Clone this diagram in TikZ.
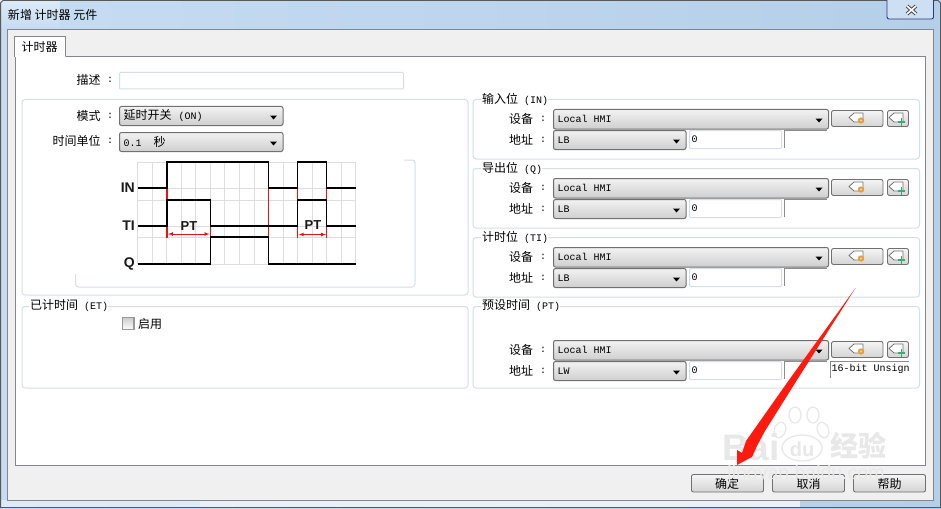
\documentclass[tikz,border=0pt]{standalone}
\usepackage{fontspec}
\setmainfont{Liberation Sans}
\newfontfamily\cjkfont{Noto Sans CJK SC}
\newfontfamily\monofont{Liberation Mono}
\usetikzlibrary{calc}
\definecolor{framea}{HTML}{C6DCF2}
\definecolor{frameb}{HTML}{B4CFE8}
\definecolor{panel}{HTML}{F0F0F0}
\definecolor{edgegray}{HTML}{84868C}
\definecolor{groupline}{HTML}{D5DFE5}
\definecolor{ctlline}{HTML}{707070}
\definecolor{gridline}{HTML}{DEDEDE}
\definecolor{redmark}{HTML}{F01010}
\definecolor{arrowred}{HTML}{FF1A10}
\definecolor{wmark}{HTML}{E8E8E8}
\definecolor{plusgreen}{HTML}{3FA878}
\definecolor{tagorange}{HTML}{E5A040}
\newcommand{\zh}{\cjkfont\fontsize{12}{14}\selectfont}
\newcommand{\mn}{\monofont\fontsize{10}{12}\selectfont}
\tikzset{
  x=1pt,y=-1pt,
  lbl/.style={inner sep=0pt,outer sep=0pt,text=black,font=\zh},
  mono/.style={inner sep=0pt,outer sep=0pt,text=black,font=\mn},
  groupbox/.style={draw=groupline,line width=1pt,rounded corners=3pt},
  ctlbox/.style={draw=ctlline,line width=1pt,rounded corners=2pt,top color=white!95!black,bottom color=black!19},
  btnbox/.style={draw=ctlline,line width=.9pt,rounded corners=2pt,top color=white!96!black,bottom color=black!17},
  fieldbox/.style={draw=groupline,line width=1pt,rounded corners=1pt,fill=white},
  sig/.style={draw=black,line width=1.1pt,line join=miter},
  redline/.style={draw=redmark,line width=1.2pt},
  chartlbl/.style={inner sep=0pt,font=\bfseries\fontsize{14}{16}\selectfont,text=black!90},
  ptlbl/.style={inner sep=0pt,font=\bfseries\fontsize{13}{15}\selectfont,text=black!90},
}
% combo: name, x1, y1, x2, y2, text
\newcommand{\combo}[6]{%
  \draw[ctlbox] (#2,#3) rectangle (#4,#5);
  \fill[black] ($(#4,#3)+(-13,9)$) -- ++(7,0) -- ++(-3.5,4) -- cycle;
  \node[mono,anchor=west] (#1) at ($(#2,#3)!.5!(#2,#5)+(4,0)$) {#6};
}
\newcommand{\tagicon}[2]{%
  \draw[draw=black!55,fill=white,line width=.8pt,line join=round] (#1+10,#2-4.5) -- (#1+1,#2-4.5) -- (#1-4,#2) -- (#1+1,#2+4.5) -- (#1+10,#2+4.5) -- cycle;
}
% device and address rows: prefix, device combo top, address type
\newcommand{\devrows}[3]{%
  \pgfmathsetmacro{\ya}{#2}
  \pgfmathsetmacro{\yb}{#2+19.5}
  \pgfmathsetmacro{\yc}{#2+21}
  \pgfmathsetmacro{\yd}{#2+40}
  \pgfmathsetmacro{\yf}{#2+39}
  \pgfmathsetmacro{\ym}{#2+9.8}
  \pgfmathsetmacro{\yn}{#2+30}
  \node[lbl,anchor=east] (#1-devlabel) at (533,\ym) {设备};
  \node[mono,anchor=center] (#1-devcolon) at (543,\ym) {:};
  \node[lbl,anchor=east] (#1-addrlabel) at (533,\yn) {地址};
  \node[mono,anchor=center] (#1-addrcolon) at (543,\yn) {:};
  \combo{#1-dev}{553.5}{\ya}{828.5}{\yb}{Local HMI}
  \combo{#1-addr}{553.5}{\yc}{686}{\yd}{#3}
  \draw[fieldbox] (689.5,\yc) rectangle (781.5,\yf);
  \node[mono,anchor=west] (#1-val) at (691.5,\yn) {0};
  \draw[black!45,line width=1pt] (784.5,\yf-1) -- (784.5,\yc) -- (827,\yc);
  \pgfmathsetmacro{\ba}{#2+1}
  \pgfmathsetmacro{\bb}{#2+17}
  \pgfmathsetmacro{\bc}{#2+8}
  \draw[btnbox] (831.5,\ba) rectangle (883,\bb);
  \tagicon{853}{\bc}
  \fill[tagorange] (861,\bc+3) circle (3.2);
  \fill[tagorange!45] (861,\bc+3) circle (1.1);
  \draw[btnbox] (887.5,\ba) rectangle (908.5,\bb);
  \tagicon{893}{\bc}
  \draw[plusgreen,line width=1.8pt] (901.5,\bc+.5) -- (901.5,\bc+8) (897.7,\bc+4.2) -- (905.3,\bc+4.2);
}
\newcommand{\grouptitle}[5]{%
  \node[inner sep=0pt,outer sep=0pt,fill=white,anchor=west,minimum height=12pt] (#1) at (#2,#3) {\hspace{1pt}{\zh #4}{\mn\hspace{6pt}#5}\hspace{3pt}};
}
\begin{document}
\begin{tikzpicture}
\useasboundingbox (0,0) rectangle (941,508);
% window frame
\shade[left color=framea,right color=frameb] (0,0) rectangle (941,508);
\shade[top color=framea!60!white,bottom color=framea] (0,0) rectangle (60,29);
\fill[framea!60!white] (0,500) rectangle (200,508);
\fill[frameb!30!white] (200,500) rectangle (800,508);
\draw[black!65,line width=1pt] (0.5,508) -- (0.5,3) -- (3,0.5) -- (938,0.5) -- (940.5,3) -- (940.5,508);
\draw[black!65,line width=1pt] (0,507.5) -- (941,507.5);
\node[lbl,anchor=west] (title) at (8,15) {新增 计时器 元件};
% close button
\draw[draw=black!55!blue!60!gray,line width=.9pt,rounded corners=2pt,fill=framea!90!white] (887,0) -- (887,19) -- (933.5,19) -- (933.5,0);
\draw[black!70,line width=3.6pt] (907,6) -- (916,14) (916,6) -- (907,14);
\draw[white,line width=1.6pt] (907,6) -- (916,14) (916,6) -- (907,14);
% panel and page
\draw[draw=edgegray,fill=panel,line width=1pt] (7.5,29.5) rectangle (933.5,500);
\draw[draw=edgegray,fill=white,line width=1pt] (15,56.5) rectangle (925,465);
\draw[draw=edgegray,fill=white,line width=1pt] (14.5,57) -- (14.5,36.5) -- (65.5,36.5) -- (65.5,56.5);
\fill[white] (15.5,54) rectangle (65,58);
\node[lbl,anchor=center] (tabtext) at (39.5,46.5) {计时器};
% description
\node[lbl,anchor=east] (desclabel) at (100.5,79.5) {描述};
\node[mono] (desccolon) at (110,79.5) {:};
\draw[fieldbox] (119.5,72.5) rectangle (403.5,89);
% left groups
\draw[groupbox] (22,99.5) rectangle (468,295);
\node[lbl,anchor=east] (modelabel) at (100.5,115.5) {模式};
\node[mono] (modecolon) at (110,115.5) {:};
\combo{mode}{119.5}{106.5}{283}{125.5}{{\zh 延时开关}\hspace{7pt}(ON)}
\node[lbl,anchor=east] (unitlabel) at (100.5,140.5) {时间单位};
\node[mono] (unitcolon) at (110,140.5) {:};
\combo{unit}{119.5}{132.5}{283}{151.5}{0.1\hspace{12pt}{\zh 秒}}
% inner picture box
\draw[groupbox] (404,160) -- (415,160) -- (415,287) -- (75.5,287) -- (75.5,274);
% chart grid
\foreach \i in {0,...,15}{
  \draw[gridline,line width=.8pt] ({137.7+14.53*\i},162) -- ({137.7+14.53*\i},264);
}
\foreach \yy in {162,188,200,226,237,264}{
  \draw[gridline,line width=.8pt] (137.7,\yy) -- (355.7,\yy);
}
% red guides
\draw[redline] (167,188) -- (167,237.5) (210.3,226) -- (210.3,237.5) (268.3,188) -- (268.3,237.5) (297.7,188) -- (297.7,237.5) (326.7,188) -- (326.7,237.5);
\draw[redline,line width=.7pt,<->,>=latex] (168,234) -- (209.5,234);
\draw[redline,line width=.7pt,<->,>=latex] (298.7,234.5) -- (326,234.5);
% signals
\draw[sig] (137.7,188) -- (167,188) -- (167,162) -- (268.3,162) -- (268.3,188) -- (297.7,188) -- (297.7,162) -- (326.7,162) -- (326.7,188) -- (355.7,188);
\draw[sig] (137.7,226) -- (167,226) -- (167,200) -- (210.3,200) -- (210.3,226) -- (297.7,226) (297.7,226) -- (297.7,200) -- (326.7,200) -- (326.7,226) -- (355.7,226);
\draw[sig] (137.7,264) -- (210.3,264) -- (210.3,237) -- (268.3,237) -- (268.3,264) -- (355.7,264);
\draw[redline] (268.3,226.5) -- (268.3,236);
\node[chartlbl,anchor=east] (inlabel) at (135,187.5) {IN};
\node[chartlbl,anchor=east] (tilabel) at (135,226) {TI};
\node[chartlbl,anchor=east] (qlabel) at (135,264) {Q};
\node[ptlbl] (pta) at (189,226) {PT};
\node[ptlbl] (ptb) at (313,225) {PT};
% elapsed time
\draw[groupbox] (22,306.5) rectangle (468,388);
\grouptitle{ettitle}{29}{306}{已计时间}{(ET)}
\draw[draw=black!40,line width=1.2pt,top color=black!20,bottom color=white] (122.8,317.8) rectangle (134,329.5);
\node[lbl,anchor=west] (enable) at (138,324) {启用};
% right groups
\draw[groupbox] (473,99.5) rectangle (919.5,159);
\grouptitle{intitle}{481}{99}{输入位}{(IN)}
\devrows{in}{109.5}{LB}
\draw[groupbox] (473,168.5) rectangle (919.5,228);
\grouptitle{qtitle}{481}{168}{导出位}{(Q)}
\devrows{q}{178.5}{LB}
\draw[groupbox] (473,237.5) rectangle (919.5,297);
\grouptitle{tititle}{481}{237}{计时位}{(TI)}
\devrows{ti}{247.5}{LB}
\draw[groupbox] (473,306.5) rectangle (919.5,388);
\grouptitle{pttitle}{481}{306}{预设时间}{(PT)}
\devrows{pt}{340.5}{LW}
\draw[black!45,line width=1pt] (830.5,378) -- (830.5,361.5) -- (909,361.5);
\node[mono,anchor=west] (unsign) at (831.5,368.5) {16-bit Unsign};
% bottom buttons
\draw[btnbox] (691.5,474.5) rectangle (763.5,492);
\node[lbl] (ok) at (727,483.5) {确定};
\draw[btnbox] (772.5,474.5) rectangle (844.5,492);
\node[lbl] (cancel) at (808.5,483.5) {取消};
\draw[btnbox] (853.5,474.5) rectangle (925.5,492);
\node[lbl] (help) at (889.5,483.5) {帮助};
% watermark
\node[inner sep=0pt,anchor=west,text=wmark,font=\bfseries\fontsize{37}{39}\selectfont] (wmbai) at (722,447) {Bai};
\begin{scope}[draw=wmark,line width=1.3pt,fill=white]
  \draw (802,448) ellipse (20 and 13);
  \draw[rotate around={-20:(780,430)}] (780,430) ellipse (5.5 and 8);
  \draw (795,415) ellipse (6 and 8);
  \draw (813,415) ellipse (6 and 8);
  \draw[rotate around={20:(823,430)}] (823,430) ellipse (5.5 and 8);
\end{scope}
\node[inner sep=0pt,text=wmark,font=\bfseries\fontsize{20}{22}\selectfont] (wmdu) at (802,449) {du};
\node[inner sep=0pt,anchor=west,text=wmark,font=\cjkfont\bfseries\fontsize{28}{30}\selectfont] (wmjy) at (830,446) {经验};
\node[inner sep=0pt,text=wmark,font=\fontsize{19.5}{21}\selectfont] (wmurl) at (806,474) {jingyan.baidu.com};
% red arrow
\fill[arrowred] (855.5,288) -- (797,380) -- (765,431) -- (757,446) -- (752,457) -- (737,465) -- (737,450) -- (742,453) -- (746,441) -- (789,380) -- cycle;
\end{tikzpicture}
\end{document}
